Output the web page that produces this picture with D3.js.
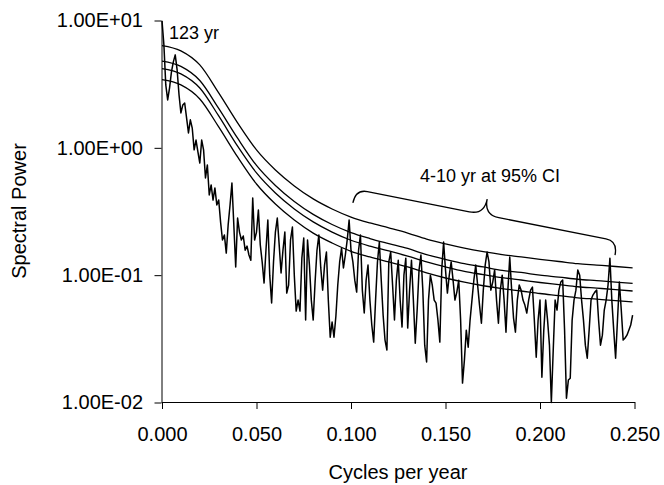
<!DOCTYPE html>
<html>
<head>
<meta charset="utf-8">
<script src="https://cdn.jsdelivr.net/npm/d3@7"></script>
<style>
  body { margin: 0; background: #fff; }
  svg { display: block; }
  text { font-family: "Liberation Sans", Arial, sans-serif; fill: #000; }
</style>
</head>
<body>
<svg id="chart" width="664" height="485"></svg>
<script>
// spectral power, one value per 0.001 cycles/yr starting at 0
const spectrum = [
  9.95, 6.44, 3.12, 2.38, 2.96, 3.95, 4.73, 5.37, 4.10, 2.61,
  1.88, 2.17, 2.25, 1.72, 1.31, 1.66, 1.43, 0.964, 1.15, 0.929,
  0.760, 1.15, 0.964, 0.580, 0.734, 0.427, 0.511, 0.389, 0.484, 0.356,
  0.389, 0.261, 0.189, 0.207, 0.149, 0.248, 0.356, 0.530, 0.248, 0.116,
  0.281, 0.218, 0.189, 0.203, 0.157, 0.169, 0.144, 0.131, 0.404, 0.189,
  0.218, 0.325, 0.173, 0.127, 0.0867, 0.157, 0.271, 0.100, 0.0604, 0.127,
  0.218, 0.281, 0.173, 0.104, 0.157, 0.218, 0.0723, 0.0836, 0.189, 0.239,
  0.100, 0.0522, 0.0637, 0.0522, 0.136, 0.196, 0.0444, 0.189, 0.120, 0.0637,
  0.0444, 0.0883, 0.157, 0.207, 0.114, 0.0763, 0.120, 0.152, 0.0637, 0.0326,
  0.0428, 0.0326, 0.0476, 0.0836, 0.127, 0.163, 0.114, 0.144, 0.189, 0.271,
  0.157, 0.127, 0.0914, 0.0736, 0.157, 0.207, 0.0763, 0.0504, 0.0914, 0.120,
  0.0637, 0.0406, 0.0298, 0.0637, 0.127, 0.182, 0.0914, 0.0485, 0.0309, 0.0258,
  0.127, 0.152, 0.0836, 0.0444, 0.0914, 0.131, 0.0637, 0.0391, 0.100, 0.136,
  0.0384, 0.0763, 0.131, 0.0637, 0.0292, 0.0532, 0.110, 0.144, 0.0763, 0.0282,
  0.0208, 0.0637, 0.100, 0.0836, 0.0637, 0.0604, 0.0444, 0.0298, 0.110, 0.182,
  0.110, 0.0723, 0.100, 0.127, 0.0914, 0.0637, 0.0736, 0.0914, 0.0444, 0.0142,
  0.0215, 0.0370, 0.0272, 0.0444, 0.0637, 0.0914, 0.120, 0.0836, 0.0582, 0.0420,
  0.0763, 0.120, 0.152, 0.127, 0.0763, 0.0883, 0.110, 0.0637, 0.0420, 0.0763,
  0.100, 0.0637, 0.0357, 0.0763, 0.139, 0.0763, 0.0460, 0.0357, 0.0637, 0.0836,
  0.0763, 0.0637, 0.0582, 0.0504, 0.0637, 0.0763, 0.0805, 0.0444, 0.0227, 0.0444,
  0.0637, 0.0158, 0.0370, 0.0637, 0.0444, 0.0282, 0.0100, 0.0258, 0.0637, 0.0532,
  0.0763, 0.0883, 0.0914, 0.0370, 0.0108, 0.0150, 0.0155, 0.0444, 0.0637, 0.0763,
  0.110, 0.100, 0.0637, 0.0444, 0.0282, 0.0223, 0.0370, 0.0637, 0.0698, 0.0736,
  0.0763, 0.0444, 0.0282, 0.0338, 0.0532, 0.0637, 0.0836, 0.136, 0.0637, 0.0370,
  0.0223, 0.0444, 0.0883, 0.0532, 0.0309, 0.0321, 0.0338, 0.0370, 0.0406, 0.0485
];
const spectrumFreqs = spectrum.map((d, i) => i * 0.001);

// red-noise confidence curves, one value per 0.01 cycles/yr
const curveFreqs = [0, 0.01, 0.02, 0.03, 0.04, 0.05, 0.06, 0.07, 0.08, 0.09, 0.10, 0.11, 0.12,
  0.13, 0.14, 0.15, 0.16, 0.17, 0.18, 0.19, 0.20, 0.21, 0.22, 0.23, 0.24, 0.249];
const level1 = [6.36, 5.78, 4.48, 2.70, 1.57, 0.963, 0.670, 0.502, 0.397, 0.331, 0.286, 0.257, 0.235,
  0.214, 0.192, 0.176, 0.163, 0.153, 0.145, 0.139, 0.133, 0.128, 0.123, 0.120, 0.117, 0.114];
const level2 = [4.80, 4.36, 3.38, 2.04, 1.19, 0.727, 0.506, 0.379, 0.300, 0.250, 0.216, 0.194, 0.177,
  0.162, 0.145, 0.133, 0.123, 0.116, 0.109, 0.105, 0.100, 0.0966, 0.0929, 0.0906, 0.0883, 0.0861];
const level3 = [4.19, 3.81, 2.95, 1.78, 1.03, 0.635, 0.442, 0.331, 0.262, 0.218, 0.188, 0.169, 0.155,
  0.141, 0.127, 0.116, 0.107, 0.101, 0.0956, 0.0916, 0.0876, 0.0843, 0.0811, 0.0791, 0.0771, 0.0751];
const level4 = [3.43, 3.12, 2.42, 1.46, 0.848, 0.520, 0.362, 0.271, 0.214, 0.179, 0.154, 0.139, 0.127,
  0.116, 0.104, 0.0950, 0.0880, 0.0826, 0.0783, 0.0751, 0.0718, 0.0691, 0.0664, 0.0648, 0.0632, 0.0616];

const xTicks = [0, 0.05, 0.10, 0.15, 0.20, 0.25];
const yTicks = [10, 1, 0.1, 0.01];
const yTickLabels = ["1.00E+01", "1.00E+00", "1.00E-01", "1.00E-02"];

// annotations, in data units
const peakLabel = { text: "123 yr", f: 0.0037, v: 7.2 };
const braceFrom = { f: 0.101, v: 0.369 };
const braceTo = { f: 0.2397, v: 0.144 };
const braceLabel = { text: "4-10 yr at 95% CI", f: 0.1735, v: 0.54 };

const svg = d3.select("#chart");

const x = d3.scaleLinear().domain([0, 0.25]).range([162, 634.5]);
const y = d3.scaleLog().domain([0.01, 10]).range([402.5, 20.5]);

// axes
const xAxis = svg.append("g")
  .attr("transform", "translate(0,402)")
  .call(d3.axisBottom(x).tickValues(xTicks).tickFormat(d3.format(".3f"))
    .tickSize(7).tickSizeOuter(0).tickPadding(17.5));
xAxis.selectAll("text").style("font-size", "20px");

const yAxis = svg.append("g")
  .attr("transform", "translate(161.5,0)")
  .call(d3.axisLeft(y).tickValues(yTicks).tickFormat((d, i) => yTickLabels[i])
    .tickSize(7).tickSizeOuter(0).tickPadding(11.5));
yAxis.selectAll("text").style("font-size", "20px");

svg.selectAll(".domain, .tick line").attr("stroke", "#000");

// axis titles
svg.append("text")
  .attr("x", 398).attr("y", 479)
  .attr("text-anchor", "middle")
  .style("font-size", "20px")
  .text("Cycles per year");

svg.append("text")
  .attr("transform", "translate(26,211) rotate(-90)")
  .attr("text-anchor", "middle")
  .style("font-size", "20px")
  .text("Spectral Power");

// red-noise curves
const curveLine = d3.line()
  .x((d, i) => x(curveFreqs[i]))
  .y(d => y(d))
  .curve(d3.curveMonotoneX);

svg.append("g")
  .selectAll("path")
  .data([level1, level2, level3, level4])
  .join("path")
  .attr("d", curveLine)
  .attr("fill", "none")
  .attr("stroke", "#000")
  .attr("stroke-width", 1.3);

// spectrum
const specLine = d3.line()
  .x((d, i) => x(spectrumFreqs[i]))
  .y(d => y(d));

svg.append("path")
  .datum(spectrum)
  .attr("d", specLine)
  .attr("fill", "none")
  .attr("stroke", "#000")
  .attr("stroke-width", 1.5)
  .attr("stroke-linejoin", "round");

// annotations
svg.append("text")
  .attr("x", x(peakLabel.f)).attr("y", y(peakLabel.v))
  .style("font-size", "18px")
  .text(peakLabel.text);

svg.append("text")
  .attr("x", x(braceLabel.f)).attr("y", y(braceLabel.v))
  .attr("text-anchor", "middle")
  .style("font-size", "18px")
  .text(braceLabel.text);

// curly brace between the two end points, tip pointing up
const p0 = [x(braceFrom.f), y(braceFrom.v)];
const p1 = [x(braceTo.f), y(braceTo.v)];
const len = Math.hypot(p1[0] - p0[0], p1[1] - p0[1]);
const ang = Math.atan2(p1[1] - p0[1], p1[0] - p0[0]) * 180 / Math.PI;
const h1 = 14, h2 = 16, r1 = 12, r2 = 15, tip = len * 0.49;

const brace = d3.path();
brace.moveTo(0, 0);
brace.quadraticCurveTo(0, -h1, r1, -h1);
brace.lineTo(tip - r2, -h1);
brace.quadraticCurveTo(tip, -h1, tip, -h1 - h2);
brace.quadraticCurveTo(tip, -h1, tip + r2, -h1);
brace.lineTo(len - r1, -h1);
brace.quadraticCurveTo(len, -h1, len, 0);

svg.append("path")
  .attr("transform", `translate(${p0[0]},${p0[1]}) rotate(${ang})`)
  .attr("d", brace.toString())
  .attr("fill", "none")
  .attr("stroke", "#000")
  .attr("stroke-width", 1.3);
</script>
</body>
</html>
